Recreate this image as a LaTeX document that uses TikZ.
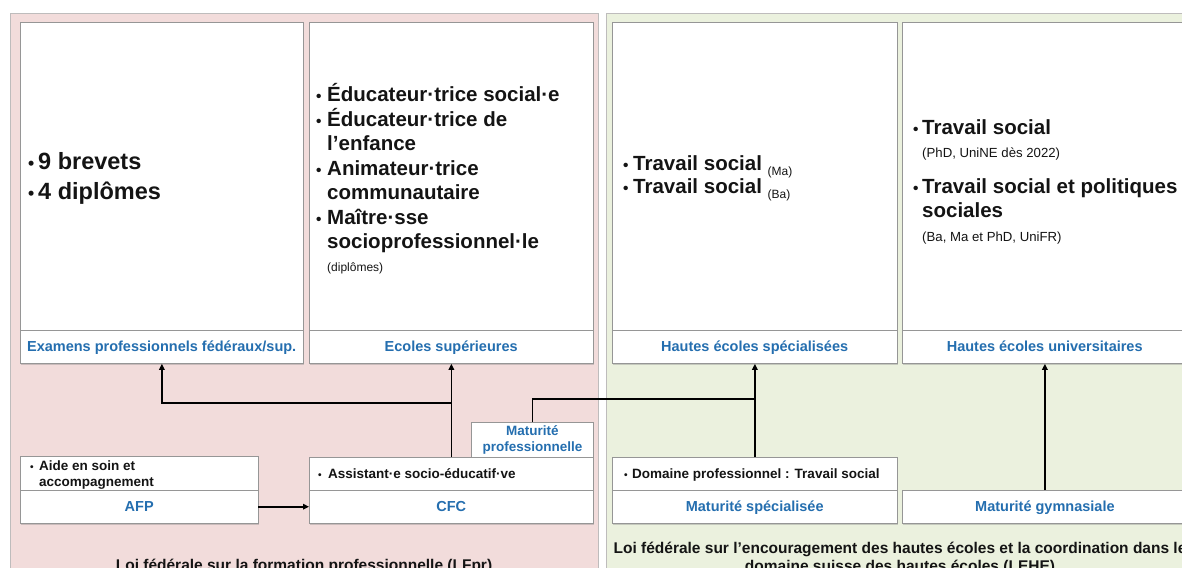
\documentclass[tikz,border=0pt]{standalone}
\usepackage{fontspec}
\setmainfont{Liberation Sans}
\usetikzlibrary{arrows.meta,shadows}
\definecolor{pinkbg}{RGB}{242,220,219}
\definecolor{greenbg}{RGB}{235,241,222}
\definecolor{panelline}{RGB}{190,188,188}
\definecolor{boxline}{RGB}{150,150,150}
\definecolor{labblue}{RGB}{36,110,175}
\definecolor{txt}{RGB}{20,20,20}
\newcommand\fs[2]{\fontsize{#1}{#2}\selectfont}
\newcommand\bul[1]{\makebox[#1][l]{\scalebox{0.75}{•}}}
\tikzset{
 panel/.style={draw=panelline, line width=1.2pt, anchor=north west, inner sep=0pt},
 box/.style={draw=boxline, line width=0.8pt, fill=white, anchor=north west, inner sep=0pt,
   drop shadow={shadow xshift=0.9pt, shadow yshift=-1.3pt, opacity=0.35}},
 lab/.style={anchor=north west, inner sep=0pt, minimum height=33pt, text height=10pt, text depth=0pt,
   font=\bfseries\fs{14.5}{17}, text=labblue},
 huge/.style={anchor=base west, inner sep=0pt, font=\bfseries\fs{23.5}{28}, text=txt},
 big/.style={anchor=base west, inner sep=0pt, font=\bfseries\fs{20.5}{24}, text=txt},
 small/.style={anchor=base west, inner sep=0pt, font=\fs{12}{14}, text=txt},
 smallb/.style={small, font=\fs{13.2}{15}},
 item/.style={anchor=base west, inner sep=0pt, font=\bfseries\fs{13.5}{16}, text=txt},
 law/.style={anchor=base, inner sep=0pt, font=\bfseries\fs{15.5}{18}, text=txt},
 conn/.style={line width=1.8pt, -{Triangle[length=6pt,width=5.5pt]}},
 wire/.style={line width=1.8pt},
 divider/.style={draw=boxline, line width=0.8pt},
}
\begin{document}
\begin{tikzpicture}[x=1pt,y=-1pt]
\useasboundingbox (0,0) rectangle (1182,567);
\clip (0,0) rectangle (1182,567);
% panels
\node[panel, fill=pinkbg, minimum width=588pt, minimum height=600pt] (lfpr) at (10,13) {};
\node[panel, fill=greenbg, minimum width=588pt, minimum height=600pt] (lehe) at (606,13) {};
% upper boxes
\node[box, minimum width=283pt, minimum height=341pt] (exam) at (20,22) {};
\node[box, minimum width=284pt, minimum height=341pt] (ecoles) at (309,22) {};
\node[box, minimum width=285pt, minimum height=341pt] (hes) at (612,22) {};
\node[box, minimum width=285pt, minimum height=341pt] (heu) at (902,22) {};
\node[lab, minimum width=283pt] (examl) at (20,330) {Examens professionnels fédéraux/sup.};
\node[lab, minimum width=284pt] (ecolesl) at (309,330) {Ecoles supérieures};
\node[lab, minimum width=285pt] (hesl) at (612,330) {Hautes écoles spécialisées};
\node[lab, minimum width=285pt] (heul) at (902,330) {Hautes écoles universitaires};
\foreach \n in {examl,ecolesl,hesl,heul}{\draw[divider] (\n.north west) -- (\n.north east);}
% lower boxes
\node[box, minimum width=122pt, minimum height=35pt, align=center, font=\bfseries\fs{13.5}{16}, text=labblue] (matpro) at (471,422) {Maturité\\professionnelle};
\node[box, minimum width=238pt, minimum height=67pt] (afp) at (20,456) {};
\node[box, minimum width=284pt, minimum height=66pt] (cfc) at (309,457) {};
\node[box, minimum width=285pt, minimum height=66pt] (matspec) at (612,457) {};
\node[box, lab, minimum width=285pt] (matgym) at (902,490) {Maturité gymnasiale};
\node[lab, minimum width=238pt] (afpl) at (20,490) {AFP};
\node[lab, minimum width=284pt] (cfcl) at (309,490) {CFC};
\node[lab, minimum width=285pt] (matspecl) at (612,490) {Maturité spécialisée};
\foreach \n in {afpl,cfcl,matspecl}{\draw[divider] (\n.north west) -- (\n.north east);}
% contents box 1
\node[huge] (e1) at (28,169) {\bul{10pt}9 brevets};
\node[huge] (e2) at (28,199) {\bul{10pt}4 diplômes};
% box 2
\node[big] (s1) at (316,102) {\bul{11pt}Éducateur·trice social·e};
\node[big] (s2) at (316,126) {\bul{11pt}Éducateur·trice de};
\node[big] (s3) at (327,150) {l’enfance};
\node[big] (s4) at (316,175) {\bul{11pt}Animateur·trice};
\node[big] (s5) at (327,199) {communautaire};
\node[big] (s6) at (316,224) {\bul{11pt}Maître·sse};
\node[big] (s7) at (327,248) {socioprofessionnel·le};
\node[small] (s8) at (327,271) {(diplômes)};
% box 3
\node[big] (h1) at (623,170) {\bul{10pt}Travail social \raisebox{-5pt}{\mdseries\fs{12}{14}(Ma)}};
\node[big] (h2) at (623,193) {\bul{10pt}Travail social \raisebox{-5pt}{\mdseries\fs{12}{14}(Ba)}};
% box 4
\node[big] (u1) at (913,134) {\bul{9pt}Travail social};
\node[smallb] (u2) at (922,157) {(PhD, UniNE dès 2022)};
\node[big] (u3) at (913,193) {\bul{9pt}Travail social et politiques};
\node[big] (u4) at (922,217) {sociales};
\node[smallb] (u5) at (922,241) {(Ba, Ma et PhD, UniFR)};
% lower contents
\node[item] (a1) at (30,470) {\bul{9pt}Aide en soin et};
\node[item] (a2) at (39,486) {accompagnement};
\node[item] (c1) at (318,478) {\bul{10pt}Assistant·e socio-éducatif·ve};
\node[item] (m1) at (624,478) {\bul{8pt}Domaine professionnel : Travail social};
% laws
\node[law] (lawa) at (304,570) {Loi fédérale sur la formation professionnelle (LFpr)};
\node[law] (lawb1) at (900,553) {Loi fédérale sur l’encouragement des hautes écoles et la coordination dans le};
\node[law] (lawb2) at (900,571) {domaine suisse des hautes écoles (LEHE)};
% connectors
\coordinate (jE) at (451,403);
\coordinate (jH) at (754.5,399);
\draw[conn] (afpl.east) -- (cfcl.west);
\draw[conn] (cfc.north) -- (ecoles.south);
\draw[conn] (jE) -| (exam.south);
\draw[wire] (matpro.north) |- (jH);
\draw[conn] (matspec.north) -- (hes.south);
\draw[conn] (matgym.north) -- (heu.south);
\end{tikzpicture}
\end{document}
